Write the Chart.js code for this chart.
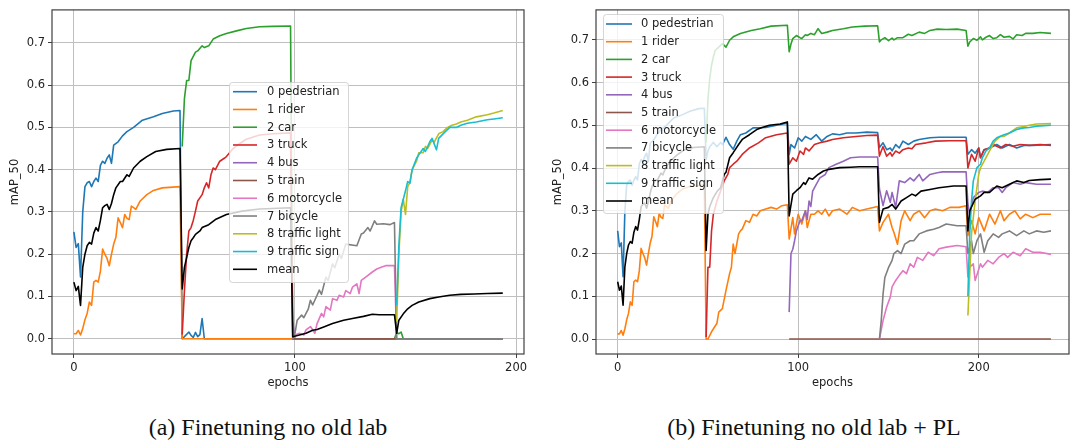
<!DOCTYPE html>
<html><head><meta charset="utf-8">
<script src="https://cdn.jsdelivr.net/npm/chart.js@4.4.1/dist/chart.umd.min.js"></script>
<style>
html,body{margin:0;padding:0;background:#fff;width:1070px;height:442px;overflow:hidden;position:relative;}
canvas{position:absolute;top:0;}
#ca{left:0;width:535px;height:400px;}
#cb{left:545px;width:525px;height:400px;}
.cap{position:absolute;top:413px;font-family:'Liberation Serif','Times New Roman',serif;font-size:24px;color:#111;white-space:nowrap;transform:translateX(-50%);line-height:28px;}
</style></head><body>
<canvas id="ca" width="535" height="400"></canvas>
<canvas id="cb" width="525" height="400"></canvas>
<div class="cap" style="left:268px">(a) Finetuning no old lab</div>
<div class="cap" style="left:814px">(b) Finetuning no old lab + PL</div>
<script>
const seriesLabels = ['0 pedestrian','1 rider','2 car','3 truck','4 bus','5 train','6 motorcycle','7 bicycle','8 traffic light','9 traffic sign','mean'];
const seriesColors = ['#1f77b4','#ff7f0e','#2ca02c','#d62728','#9467bd','#8c564b','#e377c2','#7f7f7f','#bcbd22','#17becf','#000000'];
const xTickValues = [0,100,200];
const yTickValues = [0,0.1,0.2,0.3,0.4,0.5,0.6,0.7];
const xAxisTitle = 'epochs';
const yAxisTitle = 'mAP_50';

// stage 1 (shared by both runs): [epoch, mAP_50]
const s1Ped = [[0,.253],[1,.216],[2,.225],[3,.146],[4,.30],[5,.36],[6,.369],[7,.372],[8,.36],[9,.372],[10,.38],[11,.372],[12,.41],[13,.42],[14,.415],[15,.427],[16,.435],[17,.415],[18,.458],[20,.466],[22,.48],[24,.49],[27,.50],[31,.517],[36,.525],[40,.533],[45,.539],[48,.54]];
const s1Rider = [[0,.012],[1,.012],[2,.02],[3,.009],[4,.024],[5,.045],[6,.06],[7,.087],[8,.079],[9,.134],[10,.138],[11,.134],[12,.16],[13,.212],[14,.2],[15,.19],[16,.173],[17,.2],[18,.224],[19,.24],[20,.286],[21,.275],[22,.263],[23,.294],[24,.285],[25,.282],[26,.314],[27,.31],[28,.306],[30,.326],[33,.341],[36,.351],[40,.357],[48,.36]];
const s1Mean = [[0,.134],[1,.114],[2,.124],[3,.079],[4,.169],[5,.2],[6,.22],[7,.228],[8,.224],[9,.25],[10,.263],[11,.255],[12,.28],[13,.31],[14,.315],[15,.318],[16,.306],[17,.32],[18,.341],[19,.357],[21,.372],[22,.372],[24,.388],[25,.384],[27,.404],[30,.42],[33,.431],[37,.443],[42,.448],[48,.45]];

// (a) Finetuning no old lab
const aPed = s1Ped.concat([[49,0],[50,.005],[52,.016],[53,.008],[54,.003],[55,.015],[56,.005],[57,.01],[58,.048],[59,0],[194,0]]);
const aRider = s1Rider.concat([[49,0],[194,0]]);
const aCar = [[49,.455],[50,.568],[51,.611],[52,.611],[53,.658],[55,.678],[56,.681],[58,.693],[59,.689],[61,.693],[63,.709],[66,.717],[69,.722],[74,.729],[78,.734],[84,.738],[90,.739],[98,.74],[99,0],[145,0],[146,.015],[147,.012],[148,.016],[149,0],[194,0]];
const aTruck = [[49,.01],[50,.114],[51,.2],[52,.255],[53,.263],[54,.28],[55,.302],[56,.326],[58,.341],[59,.357],[60,.369],[61,.357],[62,.388],[63,.404],[64,.4],[66,.42],[68,.427],[69,.431],[72,.45],[75,.462],[78,.472],[84,.482],[90,.485],[98,.487],[99,0],[194,0]];
const aBus = [[99,.04],[100,0],[194,0]];
const aTrain = [[99,0],[194,0]];
const aMoto = [[99,0],[100,.009],[102,.013],[104,.009],[105,.021],[107,.029],[109,.013],[110,.036],[112,.06],[113,.052],[114,.076],[116,.068],[117,.095],[119,.091],[120,.103],[122,.099],[123,.114],[125,.107],[126,.122],[128,.13],[129,.107],[130,.138],[132,.146],[135,.158],[137,.165],[139,.169],[141,.173],[145,.173],[146,0],[194,0]];
const aBike = [[99,0],[100,.013],[101,.044],[103,.056],[104,.05],[106,.07],[107,.091],[108,.08],[110,.103],[111,.115],[112,.105],[114,.146],[115,.138],[117,.177],[118,.168],[120,.2],[121,.19],[123,.224],[128,.22],[130,.248],[131,.25],[133,.263],[134,.255],[136,.279],[137,.271],[140,.272],[143,.27],[145,.275],[146,0],[194,0]];
const aLight = [[146,.04],[147,.2],[148,.3],[149,.33],[150,.294],[151,.36],[152,.37],[153,.4],[155,.42],[156,.44],[158,.44],[159,.455],[160,.45],[162,.47],[163,.465],[165,.485],[167,.49],[169,.5],[171,.505],[173,.508],[175,.513],[178,.517],[182,.525],[187,.53],[190,.534],[194,.54]];
const aSign = [[146,.08],[147,.22],[148,.31],[149,.33],[150,.35],[151,.372],[152,.368],[153,.4],[155,.427],[156,.435],[158,.45],[159,.443],[161,.466],[162,.474],[164,.447],[165,.474],[168,.49],[170,.5],[173,.5],[175,.505],[178,.51],[182,.513],[187,.518],[190,.52],[194,.523]];
const aMean = s1Mean.concat([[49,.118],[50,.169],[51,.192],[52,.216],[53,.232],[54,.239],[55,.247],[57,.255],[58,.263],[61,.27],[64,.282],[69,.294],[76,.302],[84,.307],[98,.31],[99,.005],[102,.009],[105,.013],[108,.02],[110,.022],[113,.028],[117,.036],[122,.044],[126,.048],[131,.053],[135,.058],[138,.057],[145,.057],[146,.013],[147,.044],[149,.059],[151,.071],[153,.079],[156,.087],[161,.095],[165,.099],[170,.103],[175,.105],[181,.106],[187,.107],[194,.108]]);

// (b) Finetuning no old lab + PL
const bPed = s1Ped.concat([[49,.42],[50,.44],[51,.45],[53,.46],[55,.45],[57,.46],[58,.455],[60,.472],[62,.455],[64,.444],[66,.463],[68,.478],[71,.482],[75,.494],[82,.495],[88,.5],[94,.505],
 [95,.432],[96,.455],[98,.447],[100,.471],[102,.463],[104,.474],[107,.467],[110,.478],[113,.463],[116,.474],[119,.48],[123,.478],[127,.482],[132,.482],[138,.484],[144,.483],
 [145,.448],[147,.459],[149,.443],[151,.447],[152,.44],[154,.455],[156,.447],[158,.463],[161,.455],[164,.463],[167,.467],[173,.471],[178,.472],[184,.472],[193,.472],
 [194,.432],[196,.443],[198,.435],[200,.447],[201,.424],[203,.443],[206,.447],[210,.455],[213,.447],[217,.455],[221,.447],[225,.453],[230,.453],[240,.455]]);
const bRider = s1Rider.concat([[49,0],[50,0],[52,.017],[55,.037],[56,.063],[58,.071],[60,.114],[62,.153],[63,.168],[64,.222],[65,.2],[67,.246],[68,.253],[69,.257],[71,.277],[73,.273],[75,.292],[77,.288],[79,.3],[82,.304],[85,.308],[88,.304],[91,.312],[94,.314],
 [95,.234],[97,.284],[98,.246],[100,.292],[102,.269],[104,.3],[105,.261],[107,.292],[109,.292],[111,.3],[113,.292],[115,.304],[117,.288],[119,.3],[123,.304],[127,.292],[130,.308],[134,.3],[138,.304],[144,.31],
 [145,.253],[147,.273],[150,.292],[152,.261],[153,.25],[155,.222],[157,.277],[159,.3],[162,.277],[164,.292],[167,.3],[170,.284],[173,.3],[176,.304],[180,.3],[184,.308],[189,.308],[193,.312],
 [194,.242],[196,.277],[198,.246],[200,.284],[203,.253],[206,.292],[209,.269],[212,.3],[214,.277],[217,.292],[220,.3],[223,.281],[226,.292],[230,.284],[234,.292],[240,.292]]);
const bCar = [[49,.46],[50,.56],[51,.61],[52,.64],[53,.66],[54,.675],[56,.683],[58,.691],[60,.683],[62,.699],[64,.707],[68,.715],[74,.722],[79,.726],[85,.732],[94,.734],
 [95,.672],[96,.69],[97,.703],[99,.71],[101,.705],[102,.703],[104,.712],[105,.71],[107,.715],[109,.712],[111,.726],[113,.715],[116,.718],[119,.722],[125,.726],[130,.73],[137,.732],[144,.733],
 [145,.695],[146,.7],[148,.705],[150,.698],[152,.704],[153,.7],[155,.705],[158,.705],[161,.713],[163,.71],[167,.718],[170,.715],[173,.722],[177,.725],[182,.724],[188,.725],[193,.722],
 [194,.685],[195,.695],[197,.703],[199,.699],[201,.707],[202,.7],[204,.706],[206,.71],[208,.703],[210,.705],[212,.712],[214,.706],[217,.708],[219,.702],[221,.712],[224,.71],[226,.715],[230,.715],[234,.717],[240,.715]];
const bTruck = [[49,.005],[50,.168],[51,.168],[52,.253],[53,.292],[55,.323],[57,.346],[59,.37],[61,.385],[62,.401],[64,.409],[66,.416],[69,.432],[73,.447],[78,.459],[82,.471],[88,.478],[94,.482],
 [95,.409],[97,.424],[99,.416],[101,.44],[103,.432],[104,.447],[106,.44],[109,.455],[112,.459],[116,.463],[119,.467],[125,.471],[132,.474],[138,.476],[144,.477],
 [145,.428],[146,.44],[147,.45],[149,.428],[151,.436],[152,.428],[154,.44],[156,.435],[158,.443],[161,.447],[163,.445],[165,.455],[171,.459],[176,.463],[184,.464],[193,.464],
 [194,.4],[196,.432],[198,.416],[200,.447],[201,.424],[203,.443],[206,.447],[208,.455],[212,.447],[215,.455],[219,.451],[223,.455],[228,.453],[234,.455],[240,.453]];
const bBus = [[95,.063],[96,.2],[97,.21],[98,.23],[99,.253],[101,.277],[102,.277],[104,.3],[105,.28],[106,.323],[107,.31],[108,.346],[110,.362],[112,.377],[115,.385],[117,.401],[121,.409],[125,.416],[129,.424],[134,.426],[144,.426],
 [145,.351],[147,.312],[149,.347],[151,.32],[152,.343],[154,.308],[156,.37],[159,.366],[162,.377],[164,.37],[167,.385],[169,.37],[173,.385],[177,.389],[180,.391],[186,.391],[193,.391],
 [194,.316],[195,.292],[197,.331],[200,.343],[202,.346],[205,.343],[208,.354],[211,.354],[213,.343],[215,.354],[219,.366],[223,.362],[226,.366],[232,.362],[240,.362]];
const bTrain = [[95,0],[240,0]];
const bMoto = [[145,0],[147,.043],[149,.075],[151,.098],[152,.122],[154,.137],[156,.149],[158,.16],[160,.153],[162,.176],[164,.168],[166,.191],[169,.184],[172,.203],[175,.195],[178,.211],[182,.215],[188,.219],[193,.216],
 [194,.145],[195,.168],[197,.176],[198,.137],[201,.176],[202,.168],[205,.184],[208,.176],[211,.191],[214,.2],[216,.191],[219,.203],[223,.195],[226,.211],[230,.203],[234,.203],[240,.198]];
const bBike = [[145,0],[146,.043],[147,.105],[148,.144],[150,.167],[152,.184],[153,.2],[155,.207],[157,.2],[159,.222],[162,.23],[164,.23],[167,.246],[171,.253],[175,.257],[178,.261],[182,.269],[188,.265],[193,.265],
 [194,.2],[196,.23],[197,.2],[199,.23],[201,.246],[203,.203],[205,.23],[208,.246],[211,.238],[213,.246],[217,.253],[221,.242],[225,.253],[228,.246],[232,.253],[236,.25],[240,.253]];
const bLight = [[194,.055],[195,.15],[196,.246],[198,.323],[200,.385],[201,.401],[203,.416],[206,.44],[209,.463],[212,.474],[214,.474],[217,.482],[221,.494],[225,.497],[228,.5],[232,.503],[240,.504]];
const bSign = [[194,.1],[195,.246],[196,.323],[197,.37],[199,.401],[201,.409],[202,.424],[204,.44],[206,.447],[208,.463],[210,.471],[214,.478],[217,.482],[221,.49],[225,.494],[228,.495],[232,.498],[240,.5]];
const bMean = s1Mean.concat([[49,.207],[50,.292],[51,.31],[53,.331],[55,.345],[57,.354],[59,.385],[60,.39],[62,.424],[64,.436],[67,.455],[69,.467],[73,.478],[77,.49],[80,.495],[84,.5],[90,.503],[94,.508],
 [95,.288],[97,.339],[99,.347],[101,.354],[103,.366],[104,.362],[106,.377],[108,.374],[111,.385],[114,.393],[117,.397],[123,.401],[129,.402],[134,.403],[144,.403],
 [145,.273],[147,.304],[150,.308],[152,.315],[154,.304],[157,.323],[160,.331],[163,.339],[165,.335],[168,.346],[173,.35],[178,.354],[186,.358],[193,.358],
 [194,.253],[195,.3],[198,.327],[201,.335],[203,.343],[206,.343],[210,.358],[213,.354],[217,.362],[221,.37],[225,.366],[228,.371],[234,.373],[240,.374]]);

const FONT = "'DejaVu Sans', sans-serif";
const FSIZE = 11.5;
const TXT = '#222222';
const GRID = '#bfbfbf';
const SPINE = '#404040';

function buildDatasets(list){
  return list.map((pts,i)=>({
    label: seriesLabels[i],
    data: pts.map(p=>({x:p[0], y:p[1]})),
    borderColor: seriesColors[i],
    backgroundColor: seriesColors[i],
    borderWidth: 1.6,
    pointRadius: 0, pointHoverRadius: 0,
    tension: 0, fill: false,
    borderJoinStyle: 'round',
    order: list.length - i
  }));
}

const panelPlugin = {
  id: 'panel',
  afterDatasetsDraw(chart, args, o){
    const ctx = chart.ctx, a = chart.chartArea;
    ctx.save();
    ctx.strokeStyle = SPINE; ctx.lineWidth = 1.2;
    ctx.strokeRect(a.left, a.top, a.right - a.left, a.bottom - a.top);
    const L = o.legend;
    ctx.beginPath();
    ctx.roundRect(L.x + .5, L.y + .5, L.w, L.h, 3);
    ctx.fillStyle = 'rgba(255,255,255,0.8)'; ctx.fill();
    ctx.strokeStyle = 'rgba(204,204,204,0.8)'; ctx.lineWidth = 1; ctx.stroke();
    ctx.font = FSIZE + 'px ' + FONT; ctx.textBaseline = 'middle'; ctx.textAlign = 'left';
    chart.data.datasets.forEach((d,i)=>{
      const y = L.row0 + i * L.step;
      ctx.strokeStyle = d.borderColor; ctx.lineWidth = 1.6;
      ctx.beginPath(); ctx.moveTo(L.l0, y); ctx.lineTo(L.l1, y); ctx.stroke();
      ctx.fillStyle = TXT; ctx.fillText(d.label, L.tx, y + 0.5);
    });
    ctx.restore();
  }
};

function axisCommon(){
  return {
    bounds: 'data',
    ticks: {font:{family:FONT, size:FSIZE}, color:TXT, padding:3, maxRotation:0, autoSkip:false},
    grid: {color:GRID, lineWidth:1, drawTicks:true, tickLength:4, tickColor:SPINE, tickWidth:1},
    border: {display:false}
  };
}

function makeChart(id, list, xr, yr, g){
  const xs = axisCommon(), ys = axisCommon();
  Object.assign(xs, {type:'linear', position:'bottom', min:xr[0], max:xr[1],
    afterBuildTicks: s => { s.ticks = xTickValues.map(v=>({value:v})); },
    afterFit: s => { s.height = g.xAxisH; },
    title: {display:true, text:xAxisTitle, font:{family:FONT, size:FSIZE}, color:TXT, padding:{top:0, bottom:g.xTitlePad}}});
  xs.ticks.callback = v => String(v);
  Object.assign(ys, {type:'linear', position:'left', min:yr[0], max:yr[1],
    afterBuildTicks: s => { s.ticks = yTickValues.map(v=>({value:v})); },
    afterFit: s => { s.width = g.yAxisW; },
    title: {display:true, text:yAxisTitle, font:{family:FONT, size:FSIZE}, color:TXT, padding:{top:g.yTitlePad, bottom:0}}});
  ys.ticks.callback = v => Number(v).toFixed(1);
  return new Chart(document.getElementById(id), {
    type: 'line',
    data: {datasets: buildDatasets(list)},
    options: {
      responsive:false, animation:false, devicePixelRatio:1, events:[],
      layout: {padding:{top:g.padTop, right:g.padRight, left:0, bottom:0}},
      plugins: {legend:{display:false}, tooltip:{enabled:false}, panel:{legend:g.legend}},
      scales: {x:xs, y:ys}
    },
    plugins: [panelPlugin]
  });
}

makeChart('ca', [aPed,aRider,aCar,aTruck,aBus,aTrain,aMoto,aBike,aLight,aSign,aMean],
  [-9.9, 203.6], [-0.036, 0.778],
  {padTop:7, padRight:11, yAxisW:52, xAxisH:46, xTitlePad:10, yTitlePad:8,
   legend:{x:229, y:82, w:119, h:200, row0:91.7, step:17.76, l0:233, l1:257, tx:267}});

makeChart('cb', [bPed,bRider,bCar,bTruck,bBus,bTrain,bMoto,bBike,bLight,bSign,bMean],
  [-12, 250], [-0.035, 0.77],
  {padTop:8, padRight:1, yAxisW:51, xAxisH:46, xTitlePad:10, yTitlePad:6,
   legend:{x:58, y:14, w:120, h:199, row0:24, step:17.7, l0:61, l1:87, tx:96}});
</script>
</body></html>
